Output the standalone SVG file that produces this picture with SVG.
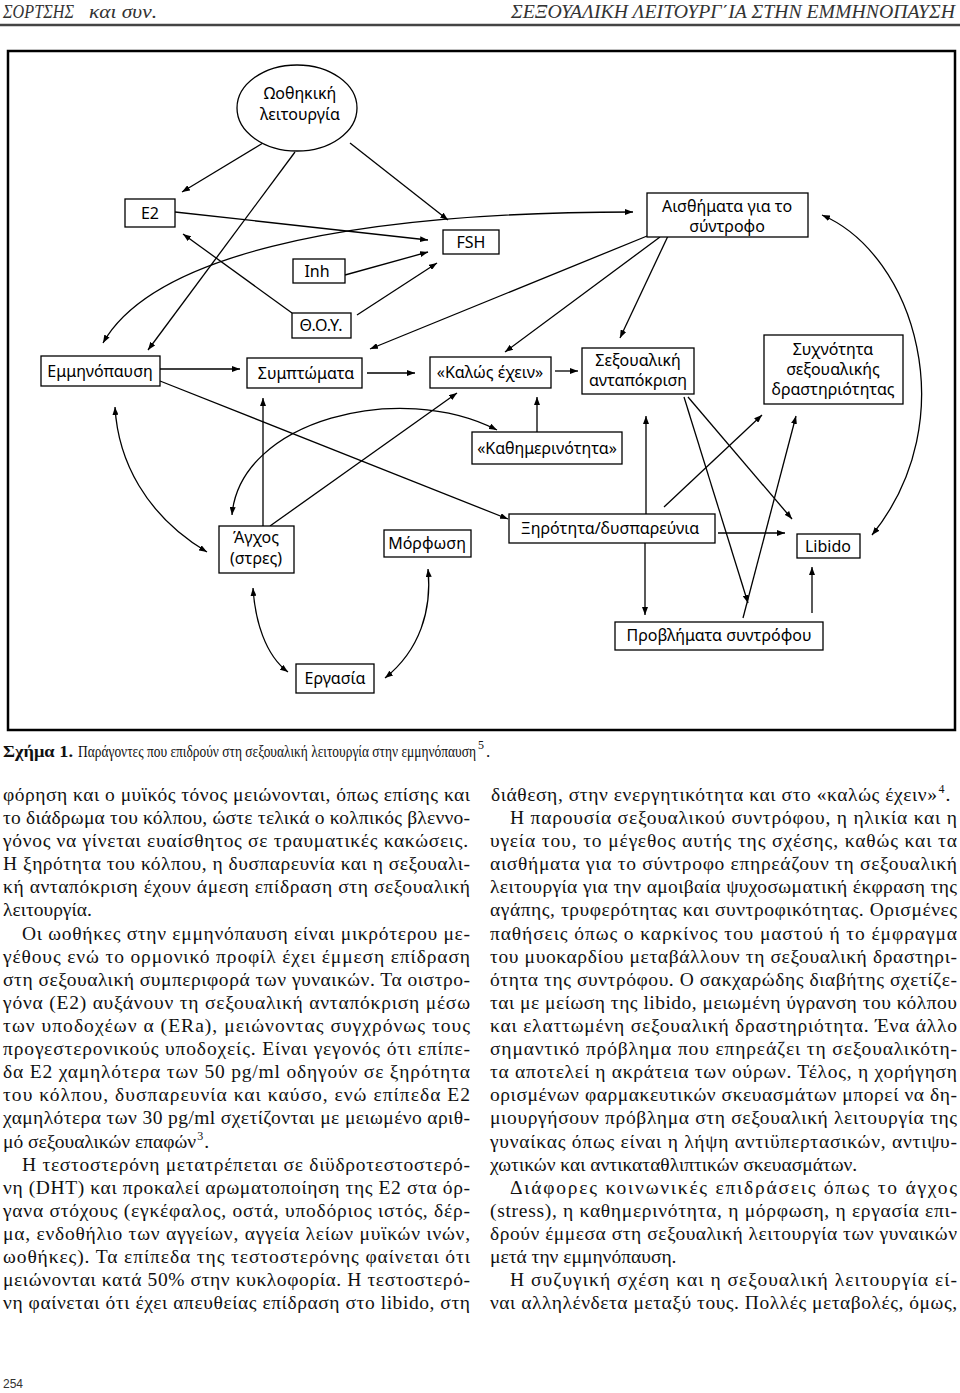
<svg xmlns="http://www.w3.org/2000/svg" width="960" height="1393" viewBox="0 0 960 1393">
<style>
.nt{font-family:"Noto Sans","DejaVu Sans",sans-serif;font-size:16px;text-anchor:middle;fill:#000}
.box{fill:#fff;stroke:#000;stroke-width:1.3}
.c{fill:none;stroke:#000;stroke-width:1.3;marker-end:url(#ah)}
.d{marker-start:url(#ah)}
.bt{font-family:"Liberation Serif","Times New Roman",serif;font-size:19.5px;fill:#111}
.cap{font-family:"Liberation Serif","Times New Roman",serif;font-size:17px;fill:#111}
.hd{font-family:"Liberation Serif","Times New Roman",serif;font-size:18px;font-style:italic;fill:#333}
.sup{font-size:12px}
</style>
<defs>
<marker id="ah" markerWidth="8" markerHeight="6" refX="8" refY="3" orient="auto-start-reverse" markerUnits="userSpaceOnUse"><path d="M0,0 L8,3 L0,6 z" fill="#000"/></marker>
</defs>
<rect width="960" height="1393" fill="#fff"/>
<text class="hd" x="3" y="18" textLength="71" lengthAdjust="spacingAndGlyphs">ΣΟΡΤΣΗΣ</text>
<text class="hd" x="89" y="18" textLength="68" lengthAdjust="spacingAndGlyphs">και συν.</text>
<text class="hd" x="511" y="18" textLength="444" lengthAdjust="spacingAndGlyphs">ΣΕΞΟΥΑΛΙΚΗ ΛΕΙΤΟΥΡΓ΄ΙΑ ΣΤΗΝ ΕΜΜΗΝΟΠΑΥΣΗ</text>
<line x1="0" y1="25" x2="960" y2="25" stroke="#444" stroke-width="2.5"/>
<rect x="8" y="51" width="947" height="679" fill="none" stroke="#000" stroke-width="2.5"/>
<g id="connectors">
<path class="c" d="M263,143 L182,192"/>
<path class="c" d="M295,152 L148,350"/>
<path class="c" d="M350,143 L448,220"/>
<path class="c" d="M175,212 L428,240"/>
<path class="c d" d="M103,343 C150,260 330,212 633,212"/>
<path class="c" d="M292,313 L183,234"/>
<path class="c" d="M345,275 L428,252"/>
<path class="c" d="M357,315 L437,263"/>
<path class="c" d="M652,234 L370,349"/>
<path class="c" d="M660,237 L505,352"/>
<path class="c" d="M668,236 L620,338"/>
<path class="c d" d="M822,215 C915,255 965,420 872,535"/>
<path class="c" d="M160,369 L240,369"/>
<path class="c" d="M367,373 L415,373"/>
<path class="c" d="M555,371 L578,371"/>
<path class="c" d="M160,381 L508,519"/>
<path class="c d" d="M115,407 C118,460 145,515 207,552"/>
<path class="c" d="M263,526 L263,398"/>
<path class="c" d="M270,526 L457,393"/>
<path class="c" d="M537,432 L537,397"/>
<path class="c d" d="M232,515 C240,420 400,380 497,430"/>
<path class="c" d="M646,514 L646,416"/>
<path class="c" d="M645,543 L645,615"/>
<path class="c" d="M664,507 L762,415"/>
<path class="c" d="M743,618 L796,416"/>
<path class="c" d="M684,397 L748,603"/>
<path class="c" d="M688,397 L792,519"/>
<path class="c" d="M718,533 L785,533"/>
<path class="c" d="M812,613 L812,567"/>
<path class="c d" d="M428,569 C432,610 420,650 385,678"/>
<path class="c d" d="M253,588 C255,620 265,655 288,672"/>
</g>
<g id="n-ovary"><ellipse class="box" cx="297" cy="108" rx="60" ry="43"/><text class="nt" x="300" y="99">Ωοθηκική</text><text class="nt" x="300" y="120">λειτουργία</text></g>
<g id="n-e2"><rect class="box" x="125" y="199" width="50" height="28"/><text class="nt" x="150" y="219">E2</text></g>
<g id="n-fsh"><rect class="box" x="443" y="230" width="56" height="24"/><text class="nt" x="471" y="248">FSH</text></g>
<g id="n-inh"><rect class="box" x="293" y="259" width="52" height="24"/><text class="nt" x="317" y="277">Inh</text></g>
<g id="n-feel"><rect class="box" x="647" y="193" width="161" height="44"/><text class="nt" x="727" y="212">Αισθήματα για το</text><text class="nt" x="727" y="232">σύντροφο</text></g>
<g id="n-thoy"><rect class="box" x="292" y="313" width="59" height="25"/><text class="nt" x="321" y="331">Θ.Ο.Υ.</text></g>
<g id="n-meno"><rect class="box" x="41" y="356" width="119" height="30"/><text class="nt" x="100" y="377">Εμμηνόπαυση</text></g>
<g id="n-sympt"><rect class="box" x="247" y="358" width="115" height="30"/><text class="nt" x="306" y="379">Συμπτώματα</text></g>
<g id="n-well"><rect class="box" x="430" y="357" width="121" height="31"/><text class="nt" x="490" y="378">«Καλώς έχειν»</text></g>
<g id="n-resp"><rect class="box" x="582" y="348" width="112" height="46"/><text class="nt" x="638" y="366">Σεξουαλική</text><text class="nt" x="638" y="386">ανταπόκριση</text></g>
<g id="n-freq"><rect class="box" x="764" y="335" width="139" height="69"/><text class="nt" x="833" y="355">Συχνότητα</text><text class="nt" x="833" y="375">σεξουαλικής</text><text class="nt" x="833" y="395">δραστηριότητας</text></g>
<g id="n-daily"><rect class="box" x="472" y="432" width="150" height="32"/><text class="nt" x="547" y="454">«Καθημερινότητα»</text></g>
<g id="n-stress"><rect class="box" x="219" y="526" width="75" height="47"/><text class="nt" x="256" y="543">Άγχος</text><text class="nt" x="256" y="564">(στρες)</text></g>
<g id="n-edu"><rect class="box" x="384" y="530" width="87" height="27"/><text class="nt" x="427" y="549">Μόρφωση</text></g>
<g id="n-dry"><rect class="box" x="509" y="514" width="206" height="29"/><text class="nt" x="610" y="534">Ξηρότητα/δυσπαρεύνια</text></g>
<g id="n-libido"><rect class="box" x="797" y="534" width="63" height="24"/><text class="nt" x="828" y="552">Libido</text></g>
<g id="n-partner"><rect class="box" x="615" y="622" width="208" height="28"/><text class="nt" x="719" y="641">Προβλήματα συντρόφου</text></g>
<g id="n-work"><rect class="box" x="296" y="664" width="78" height="29"/><text class="nt" x="335" y="684">Εργασία</text></g>
<text class="cap" x="3" y="757"><tspan font-weight="bold" textLength="70" lengthAdjust="spacingAndGlyphs">Σχήμα 1.</tspan><tspan x="78" textLength="398" lengthAdjust="spacingAndGlyphs">Παράγοντες που επιδρούν στη σεξουαλική λειτουργία στην εμμηνόπαυση</tspan><tspan class="sup" dx="2" dy="-8">5</tspan><tspan dx="2" dy="8">.</tspan></text>
<g class="bt">
<text x="3" y="801" textLength="467" lengthAdjust="spacing">φόρηση και ο μυϊκός τόνος μειώνονται, όπως επίσης και</text>
<text x="3" y="824" textLength="467" lengthAdjust="spacing">το διάδρωμα του κόλπου, ώστε τελικά ο κολπικός βλεννο-</text>
<text x="3" y="847" textLength="465" lengthAdjust="spacing">γόνος να γίνεται ευαίσθητος σε τραυματικές κακώσεις.</text>
<text x="3" y="870" textLength="467" lengthAdjust="spacing">Η ξηρότητα του κόλπου, η δυσπαρευνία και η σεξουαλι-</text>
<text x="3" y="893" textLength="467" lengthAdjust="spacing">κή ανταπόκριση έχουν άμεση επίδραση στη σεξουαλική</text>
<text x="3" y="916">λειτουργία.</text>
<text x="22" y="940" textLength="448" lengthAdjust="spacing">Οι ωοθήκες στην εμμηνόπαυση είναι μικρότερου με-</text>
<text x="3" y="963" textLength="467" lengthAdjust="spacing">γέθους ενώ το ορμονικό προφίλ έχει έμμεση επίδραση</text>
<text x="3" y="986" textLength="467" lengthAdjust="spacing">στη σεξουαλική συμπεριφορά των γυναικών. Τα οιστρο-</text>
<text x="3" y="1009" textLength="467" lengthAdjust="spacing">γόνα (Ε2) αυξάνουν τη σεξουαλική ανταπόκριση μέσω</text>
<text x="3" y="1032" textLength="467" lengthAdjust="spacing">των υποδοχέων α (ERa), μειώνοντας συγχρόνως τους</text>
<text x="3" y="1055" textLength="467" lengthAdjust="spacing">προγεστερονικούς υποδοχείς. Είναι γεγονός ότι επίπε-</text>
<text x="3" y="1078" textLength="467" lengthAdjust="spacing">δα Ε2 χαμηλότερα των 50 pg/ml οδηγούν σε ξηρότητα</text>
<text x="3" y="1101" textLength="467" lengthAdjust="spacing">του κόλπου, δυσπαρευνία και καύσο, ενώ επίπεδα Ε2</text>
<text x="3" y="1124" textLength="467" lengthAdjust="spacing">χαμηλότερα των 30 pg/ml σχετίζονται με μειωμένο αριθ-</text>
<text x="3" y="1148">μό σεξουαλικών επαφών<tspan class="sup" dx="1" dy="-8">3</tspan><tspan dx="1" dy="8">.</tspan></text>
<text x="22" y="1171" textLength="448" lengthAdjust="spacing">Η τεστοστερόνη μετατρέπεται σε διϋδροτεστοστερό-</text>
<text x="3" y="1194" textLength="467" lengthAdjust="spacing">νη (DHT) και προκαλεί αρωματοποίηση της Ε2 στα όρ-</text>
<text x="3" y="1217" textLength="467" lengthAdjust="spacing">γανα στόχους (εγκέφαλος, οστά, υποδόριος ιστός, δέρ-</text>
<text x="3" y="1240" textLength="467" lengthAdjust="spacing">μα, ενδοθήλιο των αγγείων, αγγεία λείων μυϊκών ινών,</text>
<text x="3" y="1263" textLength="467" lengthAdjust="spacing">ωοθήκες). Τα επίπεδα της τεστοστερόνης φαίνεται ότι</text>
<text x="3" y="1286" textLength="467" lengthAdjust="spacing">μειώνονται κατά 50% στην κυκλοφορία. Η τεστοστερό-</text>
<text x="3" y="1309" textLength="467" lengthAdjust="spacing">νη φαίνεται ότι έχει απευθείας επίδραση στο libido, στη</text>
</g>
<g class="bt">
<text x="491" y="801"><tspan textLength="446" lengthAdjust="spacing">διάθεση, στην ενεργητικότητα και στο «καλώς έχειν»</tspan><tspan class="sup" dx="1" dy="-8">4</tspan><tspan dx="1" dy="8">.</tspan></text>
<text x="510" y="824" textLength="447" lengthAdjust="spacing">Η παρουσία σεξουαλικού συντρόφου, η ηλικία και η</text>
<text x="490" y="847" textLength="467" lengthAdjust="spacing">υγεία του, το μέγεθος αυτής της σχέσης, καθώς και τα</text>
<text x="490" y="870" textLength="467" lengthAdjust="spacing">αισθήματα για το σύντροφο επηρεάζουν τη σεξουαλική</text>
<text x="490" y="893" textLength="467" lengthAdjust="spacing">λειτουργία για την αμοιβαία ψυχοσωματική έκφραση της</text>
<text x="490" y="916" textLength="467" lengthAdjust="spacing">αγάπης, τρυφερότητας και συντροφικότητας. Ορισμένες</text>
<text x="490" y="940" textLength="467" lengthAdjust="spacing">παθήσεις όπως ο καρκίνος του μαστού ή το έμφραγμα</text>
<text x="490" y="963" textLength="467" lengthAdjust="spacing">του μυοκαρδίου μεταβάλλουν τη σεξουαλική δραστηρι-</text>
<text x="490" y="986" textLength="467" lengthAdjust="spacing">ότητα της συντρόφου. Ο σακχαρώδης διαβήτης σχετίζε-</text>
<text x="490" y="1009" textLength="467" lengthAdjust="spacing">ται με μείωση της libido, μειωμένη ύγρανση του κόλπου</text>
<text x="490" y="1032" textLength="467" lengthAdjust="spacing">και ελαττωμένη σεξουαλική δραστηριότητα. Ένα άλλο</text>
<text x="490" y="1055" textLength="467" lengthAdjust="spacing">σημαντικό πρόβλημα που επηρεάζει τη σεξουαλικότη-</text>
<text x="490" y="1078" textLength="467" lengthAdjust="spacing">τα αποτελεί η ακράτεια των ούρων. Τέλος, η χορήγηση</text>
<text x="490" y="1101" textLength="467" lengthAdjust="spacing">ορισμένων φαρμακευτικών σκευασμάτων μπορεί να δη-</text>
<text x="490" y="1124" textLength="467" lengthAdjust="spacing">μιουργήσουν πρόβλημα στη σεξουαλική λειτουργία της</text>
<text x="490" y="1148" textLength="467" lengthAdjust="spacing">γυναίκας όπως είναι η λήψη αντιϋπερτασικών, αντιψυ-</text>
<text x="490" y="1171">χωτικών και αντικαταθλιπτικών σκευασμάτων.</text>
<text x="510" y="1194" textLength="447" lengthAdjust="spacing">Διάφορες κοινωνικές επιδράσεις όπως το άγχος</text>
<text x="490" y="1217" textLength="467" lengthAdjust="spacing">(stress), η καθημερινότητα, η μόρφωση, η εργασία επι-</text>
<text x="490" y="1240" textLength="467" lengthAdjust="spacing">δρούν έμμεσα στη σεξουαλική λειτουργία των γυναικών</text>
<text x="490" y="1263">μετά την εμμηνόπαυση.</text>
<text x="510" y="1286" textLength="447" lengthAdjust="spacing">Η συζυγική σχέση και η σεξουαλική λειτουργία εί-</text>
<text x="490" y="1309" textLength="467" lengthAdjust="spacing">ναι αλληλένδετα μεταξύ τους. Πολλές μεταβολές, όμως,</text>
</g>
<text x="3" y="1388" font-family="Liberation Sans, Arial, sans-serif" font-size="12" fill="#333">254</text>
</svg>
